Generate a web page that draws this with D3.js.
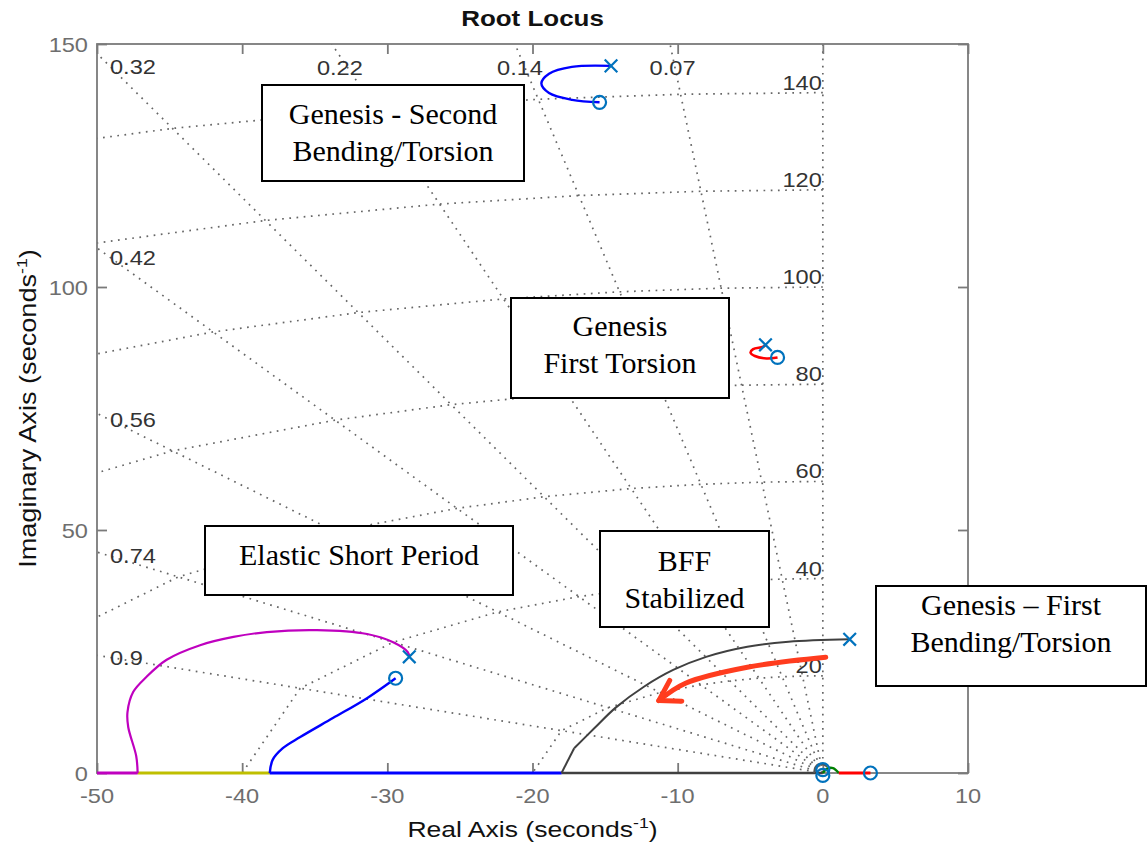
<!DOCTYPE html>
<html>
<head>
<meta charset="utf-8">
<script src="https://cdn.jsdelivr.net/npm/d3@7"></script>
<style>
  body { margin: 0; background: #fff; }
  svg { display: block; }
</style>
</head>
<body>
<svg width="1147" height="846"></svg>
<script>
// Root locus with damping / natural frequency grid

const xTicks = [-50, -40, -30, -20, -10, 0, 10];
const yTicks = [0, 50, 100, 150];
const zetaValues = [0.07, 0.14, 0.22, 0.32, 0.42, 0.56, 0.74, 0.9];
const wnValues = [20, 40, 60, 80, 100, 120, 140];

// locus branches as [real, imag]
const secondBendingBranch = [[-14.59, 145.5], [-17.29, 145.3], [-18.86, 143.9], [-19.39, 141.9], [-18.86, 139.9], [-17.27, 138.5], [-15.38, 138.0]];
const firstTorsionBranch = [[-3.95, 88.1], [-4.11, 87.7], [-4.8, 87.2], [-4.98, 86.5], [-4.68, 85.8], [-3.88, 85.3], [-3.12, 85.5]];
const shortPeriodOuter = [[-28.49, 23.9], [-28.6, 24.9], [-29.6, 26.9], [-31.4, 28.6], [-34.85, 29.4], [-38.3, 29.0], [-40.6, 28.0], [-42.9, 26.3], [-45.2, 23.3], [-46.6, 19.75], [-47.5, 16.7], [-47.9, 12.55], [-47.85, 9.47], [-47.3, 3.5], [-47.2, 0]];
const shortPeriodOuterAxis = [[-47.2, 0], [-50, 0]];
const shortPeriodInner = [[-29.43, 19.5], [-31.4, 15.4], [-33.75, 11.3], [-36.0, 7.4], [-37.2, 5.1], [-37.9, 2.7], [-38.1, 0]];
const shortPeriodInnerAxis = [[-38.1, 0], [-18.0, 0]];
const realAxisOlive = [[-47.2, 0], [-38.1, 0]];
const firstBendingBranch = [[1.85, 27.5], [-2.36, 27.0], [-5.2, 25.98], [-8.04, 23.9], [-10.31, 21.2], [-12.3, 17.8], [-14.29, 13.4], [-15.71, 9.3], [-17.13, 5.1]];
const firstBendingFoot = [[-17.13, 5.1], [-18.0, 0]];
const firstBendingAxis = [[-18.0, 0], [0, 0]];
const originGrayArc = [[-0.6, 0], [-0.5, 1.3], [-0.1, 1.9], [0.3, 1.3]];
const originGreenArc = [[0, 0], [0.3, 0.9], [0.7, 1.0], [1.1, 0]];
const originRedAxis = [[1.1, 0], [3.28, 0]];

const poles = [[-14.59, 145.5], [-3.95, 88.1], [-28.49, 23.9], [1.85, 27.5]];
const zeros = [[-15.38, 138.0], [-3.12, 85.5], [-29.43, 19.5], [0, 0.7], [0, -0.5], [3.28, 0]];

const bffArrow = [[0.2, 23.8], [-5.2, 21.75], [-9.46, 18.46], [-11.3, 14.9]];

const annotationTexts = [
    ['Genesis - Second', 'Bending/Torsion'],
    ['Genesis', 'First Torsion'],
    ['Elastic Short Period'],
    ['BFF', 'Stabilized'],
    ['Genesis \u2013 First', 'Bending/Torsion']
];

const svg = d3.select('svg');
const width = 1147;
const height = 846;
const margin = { top: 44, right: 179, bottom: 73, left: 97 };
const innerWidth = width - margin.left - margin.right;
const innerHeight = height - margin.top - margin.bottom;

const sans = 'Liberation Sans, Arial, Helvetica, sans-serif';
const serif = 'Liberation Serif, Times New Roman, serif';
const sx = 1.18; // the original figure is stretched horizontally
const axisGray = '#7a7a7a';
const gridGray = '#666';
const markerBlue = '#0072bd';

const x = d3.scaleLinear().domain([-50, 10]).range([0, innerWidth]);
const y = d3.scaleLinear().domain([0, 150]).range([innerHeight, 0]);

svg.append('defs').append('clipPath').attr('id', 'plot-clip')
    .append('rect').attr('width', innerWidth).attr('height', innerHeight);

const g = svg.append('g').attr('transform', `translate(${margin.left},${margin.top})`);

function sansText(parent, px, py, str, opts = {}) {
    const rot = opts.rotate ? ` rotate(${opts.rotate})` : '';
    return parent.append('text')
        .attr('transform', `translate(${px},${py})${rot} scale(${sx},1)`)
        .attr('text-anchor', opts.anchor || 'middle')
        .attr('dy', opts.dy || 0)
        .attr('font-family', sans)
        .attr('font-size', opts.size || 20)
        .attr('font-weight', opts.weight || 'normal')
        .attr('fill', opts.fill || '#333')
        .text(str);
}

// ---- s-plane grid
const gridLayer = g.append('g').attr('clip-path', 'url(#plot-clip)');
const line = d3.line().x(d => x(d[0])).y(d => y(d[1]));
const smooth = d3.line().x(d => x(d[0])).y(d => y(d[1])).curve(d3.curveCatmullRom.alpha(0.5));

[0, ...zetaValues].forEach(z => {
    const s = Math.sqrt(1 - z * z);
    gridLayer.append('path')
        .attr('d', line([[0, 0], [-400 * z, 400 * s]]))
        .attr('fill', 'none').attr('stroke', gridGray)
        .attr('stroke-width', 1.7).attr('stroke-dasharray', '1.7,5.5');
});

const arcZetas = [0, ...zetaValues, 1];
wnValues.forEach(wn => {
    const pts = arcZetas.map(z => [-wn * z, wn * Math.sqrt(1 - z * z)]);
    gridLayer.append('path')
        .attr('d', line(pts))
        .attr('fill', 'none').attr('stroke', gridGray)
        .attr('stroke-width', 1.7).attr('stroke-dasharray', '1.7,5.5');
});

// damping labels near the top / left edges
zetaValues.forEach(z => {
    const s = Math.sqrt(1 - z * z);
    const xTop = -150 * z / s;
    if (xTop >= -50) {
        const yd = y.invert(12);
        sansText(g, x(-yd * z / s), 24, z, { dy: '0.35em' });
    } else {
        const xd = x.invert(14);
        sansText(g, 13, y(-xd * s / z), z, { anchor: 'start', dy: '0.35em' });
    }
});

// natural frequency labels along the imaginary axis
wnValues.forEach(wn => {
    sansText(g, x(0) - 1, y(wn) - 10, wn, { anchor: 'end', dy: '0.35em' });
});

// ---- axes box and ticks
g.append('rect')
    .attr('width', innerWidth).attr('height', innerHeight)
    .attr('fill', 'none').attr('stroke', axisGray).attr('stroke-width', 1.8);

const xAxis = d3.axisBottom(x).tickValues(xTicks).tickSize(-10).tickSizeOuter(0).tickFormat('');
const xAxisTop = d3.axisTop(x).tickValues(xTicks).tickSize(-10).tickSizeOuter(0).tickFormat('');
const yAxis = d3.axisLeft(y).tickValues(yTicks).tickSize(-10).tickSizeOuter(0).tickFormat('');
const yAxisRight = d3.axisRight(y).tickValues(yTicks).tickSize(-10).tickSizeOuter(0).tickFormat('');

g.append('g').attr('transform', `translate(0,${innerHeight})`).call(xAxis);
g.append('g').call(xAxisTop);
g.append('g').call(yAxis);
g.append('g').attr('transform', `translate(${innerWidth},0)`).call(yAxisRight);
g.selectAll('.domain').remove();
g.selectAll('.tick line').attr('stroke', axisGray).attr('stroke-width', 1.8);
g.selectAll('.tick text').remove();

xTicks.forEach(v => sansText(g, x(v), innerHeight + 30, v, { fill: '#6e6e6e' }));
yTicks.forEach(v => sansText(g, -9, y(v) + 1, v, { anchor: 'end', dy: '0.35em', fill: '#6e6e6e' }));

// ---- locus branches
const plotLayer = g.append('g');
function branch(data, color, curved, w) {
    plotLayer.append('path')
        .attr('d', (curved ? smooth : line)(data))
        .attr('fill', 'none')
        .attr('stroke', color)
        .attr('stroke-width', w)
        .attr('stroke-linejoin', 'round');
}
branch(firstBendingAxis, '#404040', false, 2.6);
branch(realAxisOlive, '#bfbf00', false, 2.8);
branch(shortPeriodOuterAxis, '#bf00bf', false, 2.8);
branch(shortPeriodInnerAxis, '#0000ff', false, 2.8);
branch(secondBendingBranch, '#0000ff', true, 2.4);
branch(firstTorsionBranch, '#ff0000', true, 2.6);
branch(shortPeriodOuter, '#bf00bf', true, 2.2);
branch(shortPeriodInner, '#0000ff', true, 2.4);
branch(firstBendingBranch, '#404040', true, 2.0);
branch(firstBendingFoot, '#404040', false, 2.0);
branch(originGrayArc, '#555555', true, 1.8);
branch(originGreenArc, '#008000', true, 2.4);
branch(originRedAxis, '#ff0000', false, 2.8);

// zeros and poles
plotLayer.selectAll('.zero').data(zeros).join('circle')
    .attr('class', 'zero')
    .attr('cx', d => x(d[0])).attr('cy', d => y(d[1]))
    .attr('r', 6.5)
    .attr('fill', 'none').attr('stroke', markerBlue).attr('stroke-width', 2.2);

plotLayer.selectAll('.pole').data(poles).join('path')
    .attr('class', 'pole')
    .attr('d', d => {
        const cx = x(d[0]), cy = y(d[1]), h = 6.3;
        return `M${cx - h},${cy - h}L${cx + h},${cy + h}M${cx - h},${cy + h}L${cx + h},${cy - h}`;
    })
    .attr('stroke', markerBlue).attr('stroke-width', 2.2).attr('fill', 'none');

// title and axis labels
sansText(svg, margin.left + innerWidth / 2, 26, 'Root Locus', { size: 22, weight: 'bold', fill: '#111' });

const xl = sansText(svg, margin.left + innerWidth / 2, 837, '', { size: 22.5, fill: '#111' });
xl.append('tspan').text('Real Axis (seconds');
xl.append('tspan').attr('dy', -9).attr('font-size', 15).text('-1');
xl.append('tspan').attr('dy', 9).text(')');

const yl = sansText(svg, 36, margin.top + innerHeight / 2, '', { size: 23, fill: '#111', rotate: -90 });
yl.append('tspan').text('Imaginary Axis (seconds');
yl.append('tspan').attr('dy', -9).attr('font-size', 15).text('-1');
yl.append('tspan').attr('dy', 9).text(')');

// ---- BFF arrow
const arrowColor = '#ff3c1e';
const arrowPts = bffArrow.map(d => [x(d[0]) + margin.left, y(d[1]) + margin.top]);
svg.append('path')
    .attr('d', d3.line().curve(d3.curveCatmullRom.alpha(0.5))(arrowPts))
    .attr('fill', 'none').attr('stroke', arrowColor)
    .attr('stroke-width', 5).attr('stroke-linecap', 'round');
{
    const tip = arrowPts[arrowPts.length - 1];
    const prev = arrowPts[arrowPts.length - 2];
    const ang = Math.atan2(prev[1] - tip[1], prev[0] - tip[0]);
    const len = 23;
    const arms = [ang - 0.5, ang + 0.6].map(a => [tip[0] + len * Math.cos(a), tip[1] + len * Math.sin(a)]);
    svg.append('path')
        .attr('d', `M${arms[0][0]},${arms[0][1]}L${tip[0]},${tip[1]}L${arms[1][0]},${arms[1][1]}`)
        .attr('fill', 'none').attr('stroke', arrowColor)
        .attr('stroke-width', 5).attr('stroke-linecap', 'round').attr('stroke-linejoin', 'round');
}

// ---- annotation boxes
const boxLayout = [
    { x: 262, y: 85, w: 262, h: 96, first: 39 },
    { x: 511, y: 298, w: 218, h: 100, first: 38 },
    { x: 205, y: 526, w: 308, h: 69, first: 39 },
    { x: 600, y: 531, w: 169, h: 96, first: 40 },
    { x: 876, y: 586, w: 270, h: 100, first: 29 }
];
annotationTexts.forEach((lines, i) => {
    const b = boxLayout[i];
    const bg = svg.append('g');
    bg.append('rect')
        .attr('x', b.x).attr('y', b.y).attr('width', b.w).attr('height', b.h)
        .attr('fill', '#fff').attr('stroke', '#000').attr('stroke-width', 2);
    lines.forEach((t, j) => {
        bg.append('text')
            .attr('x', b.x + b.w / 2)
            .attr('y', b.y + b.first + j * 37)
            .attr('text-anchor', 'middle')
            .attr('font-family', serif)
            .attr('font-size', 30)
            .attr('fill', '#000')
            .text(t);
    });
});
</script>
</body>
</html>
